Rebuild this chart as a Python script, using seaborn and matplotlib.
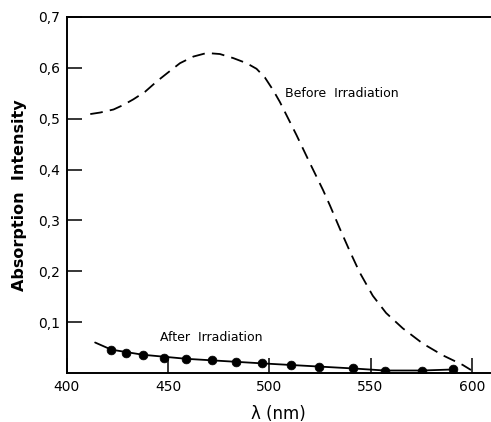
import matplotlib
matplotlib.use('Agg')
import matplotlib.pyplot as plt
import seaborn as sns
import pandas as pd

# Before irradiation (dashed curve)
wl_before = [411.6, 416.5, 423.1, 428.0, 432.9, 438.7, 444.4, 450.1, 455.9, 462.5, 469.1,
             475.6, 482.2, 488.8, 493.7, 497.8, 501.9, 505.2, 507.6, 513.4, 520.0, 526.5,
             530.0, 534.7, 539.7, 544.6, 551.1, 557.7, 565.9, 575.8, 585.6, 595.5, 599.6]
abs_before = [0.509, 0.512, 0.518, 0.527, 0.538, 0.553, 0.573, 0.591, 0.609, 0.622, 0.629,
              0.627, 0.619, 0.609, 0.598, 0.581, 0.556, 0.533, 0.514, 0.468, 0.413, 0.360,
              0.329, 0.285, 0.240, 0.198, 0.152, 0.118, 0.088, 0.058, 0.035, 0.016, 0.006]

# After irradiation (measured points + fitted line)
wl_after = [422, 429, 437.5, 448, 459, 471.5, 483.5, 496.5, 510.5, 524.5, 541.5, 557, 575.5, 590.5]
abs_after = [0.045, 0.039, 0.035, 0.030, 0.028, 0.025, 0.022, 0.019, 0.015, 0.011, 0.009,
             0.005, 0.005, 0.007]
wl_fit = [414, 422, 437.5, 459, 496.5, 541.5, 557, 575.5, 590.5]
abs_fit = [0.060, 0.046, 0.036, 0.028, 0.019, 0.009, 0.005, 0.005, 0.007]

y_ticks = [0.1, 0.2, 0.3, 0.4, 0.5, 0.6, 0.7]
y_labels = ['0,1', '0,2', '0,3', '0,4', '0,5', '0,6', '0,7']
x_ticks = [400, 450, 500, 550, 600]

sns.set_style('ticks')
plt.rcParams['font.family'] = ['DejaVu Sans']
plt.rcParams['text.color'] = 'black'
plt.rcParams['axes.labelcolor'] = 'black'

fig = plt.figure(figsize=(4.91, 4.22), dpi=100)
ax = fig.add_axes([0.136, 0.116, 0.862, 0.844])

df_b = pd.DataFrame({'wl': wl_before, 'a': abs_before})
sns.lineplot(data=df_b, x='wl', y='a', ax=ax, color='black', linewidth=1.3,
             estimator=None, sort=False)
ax.lines[-1].set_dashes((7, 4))

df_fit = pd.DataFrame({'wl': wl_fit, 'a': abs_fit})
sns.lineplot(data=df_fit, x='wl', y='a', ax=ax, color='black', linewidth=1.3,
             estimator=None, sort=False)
df_a = pd.DataFrame({'wl': wl_after, 'a': abs_after})
sns.scatterplot(data=df_a, x='wl', y='a', ax=ax, color='black', s=40, edgecolor='black', zorder=3)

ax.set_xlim(400, 609)
ax.set_ylim(0, 0.7)
ax.set_xticks(x_ticks)
ax.set_yticks(y_ticks)
ax.set_yticklabels(y_labels)
ax.tick_params(direction='in', length=11, width=1.1, labelsize=10, colors='black', pad=5)

for s in ['left', 'bottom', 'top']:
    ax.spines[s].set_linewidth(1.4)
    ax.spines[s].set_color('black')
ax.spines['right'].set_visible(False)

ax.text(508, 0.55, 'Before  Irradiation', fontsize=9, ha='left', va='center')
ax.text(446, 0.07, 'After  Irradiation', fontsize=9, ha='left', va='center')

ax.set_xlabel('λ (nm)', fontsize=12, labelpad=8)
ax.set_ylabel('Absorption  Intensity', fontsize=11.5, fontweight='bold', labelpad=8)

fig.savefig('out.png', dpi=100)
